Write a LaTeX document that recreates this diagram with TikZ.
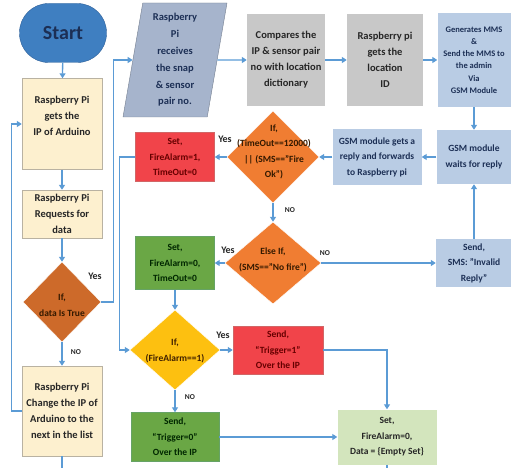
\documentclass[tikz,border=0pt]{standalone}
\usepackage{fontspec}
\setmainfont{Carlito}
\usepackage{xcolor}
\usetikzlibrary{arrows.meta,positioning,shapes.geometric}

\definecolor{arrowblue}{HTML}{5B9BD5}
\definecolor{startblue}{HTML}{3F7FC1}
\definecolor{startline}{HTML}{2E6099}
\definecolor{navytext}{HTML}{1C2F55}
\definecolor{cream}{HTML}{FDF0CF}
\definecolor{creamline}{HTML}{B9B2A2}
\definecolor{paral}{HTML}{A6B4CC}
\definecolor{greybox}{HTML}{C8C8C8}
\definecolor{lightblue}{HTML}{B9CCE4}
\definecolor{darkorange}{HTML}{CD6A2A}
\definecolor{orangeif}{HTML}{F07D32}
\definecolor{redbox}{HTML}{F1444A}
\definecolor{greenbox}{HTML}{6AA745}
\definecolor{yellowif}{HTML}{FDC010}
\definecolor{lightgreen}{HTML}{D3E5BD}

\begin{document}
\begin{tikzpicture}[x=1pt,y=-1pt,
    every node/.style={inner sep=0pt,align=center,font=\bfseries},
    bigtxt/.style={font=\bfseries\fontsize{10.5}{16}\selectfont},
    midtxt/.style={font=\bfseries\fontsize{9.5}{15.5}\selectfont},
    creambox/.style={rectangle,draw=creamline,fill=cream,bigtxt,text=black!85,minimum width=80pt},
    greybox/.style={rectangle,fill=greybox,bigtxt,text=black!85},
    bluebox/.style={rectangle,fill=lightblue,midtxt,text=navytext},
    redset/.style={rectangle,draw=red!70!black!60,fill=redbox,midtxt,text=red!40!black},
    greenset/.style={rectangle,draw=green!40!black!60,fill=greenbox,midtxt,text=black!85!green},
    ifbox/.style={diamond,draw=white,minimum width=#1},
    iftext/.style={midtxt,text=black!80!orange},
    flow/.style={draw=arrowblue,line width=1.3pt,-{Triangle[length=5pt,width=6pt]}},
    link/.style={draw=arrowblue,line width=1.3pt},
    yeslabel/.style={font=\bfseries\fontsize{10}{12}\selectfont,text=black!85},
    nolabel/.style={font=\bfseries\fontsize{7.5}{9}\selectfont,text=black!85}]

    \useasboundingbox (0,0) rectangle (511,468);

    % Draw left column
    \node[rectangle,rounded corners=29pt,draw=startline,fill=startblue,
          minimum width=87pt,minimum height=59pt,text=navytext,
          font=\bfseries\fontsize{20}{24}\selectfont] (start) at (63,33) {Start};
    \node[creambox,minimum height=91pt] (getip) at (62,124) {Raspberry Pi\\ gets the\\ IP of Arduino\\ \mbox{}};
    \node[creambox,minimum height=48pt] (request) at (62,214) {Raspberry Pi\\ Requests for\\ data};
    \node[ifbox=78pt,fill=darkorange,minimum height=80pt] (ifdata) at (62,302) {};
    \node[iftext] (ifdatatext) at (62,305) {If,\\ data Is True};
    \node[creambox,minimum height=90pt] (change) at (62,411) {Raspberry Pi\\ Change the IP of\\ Arduino to the\\ next in the list};
    \coordinate (changeend) at (62,468);

    % Draw top row
    \node[trapezium,trapezium left angle=78,trapezium right angle=102,trapezium stretches body,
          draw=paral!70!black,fill=paral,minimum width=104pt,minimum height=114pt,
          bigtxt,text=navytext,font=\bfseries\fontsize{10.5}{16.8}\selectfont] (receive) at (175,60)
          {Raspberry\\ Pi\\ receives\\ the snap\\ \& sensor\\ pair no.};
    \node[greybox,minimum width=78pt,minimum height=92pt] (compare) at (286,60)
          {Compares the\\ IP \& sensor pair\\ no with location\\ dictionary};
    \node[greybox,minimum width=76pt,minimum height=92pt] (location) at (385,60)
          {Raspberry pi\\ gets the\\ location\\ ID};
    \node[bluebox,minimum width=73pt,minimum height=94pt,font=\bfseries\fontsize{8.5}{12.2}\selectfont] (mms) at (474,60)
          {Generates MMS\\ \&\\ Send the MMS to\\ the admin\\ Via\\ GSM Module};

    % Draw reply handling
    \node[bluebox,minimum width=75pt,minimum height=54pt] (wait) at (474,157) {GSM module\\ waits for reply};
    \node[bluebox,minimum width=89pt,minimum height=55pt] (forward) at (377,157)
          {GSM module gets a\\ reply and forwards\\ to Raspberry pi};
    \node[ifbox=92pt,fill=orangeif,minimum height=92pt] (iffire) at (273,157) {};
    \node[iftext] (iffiretext) at (274,152) {If,\\ (TimeOut==12000)\\ || (SMS=="Fire\\ Ok")};
    \node[redset,minimum width=79pt,minimum height=49pt] (setfire) at (175,157) {Set,\\ FireAlarm=1,\\ TimeOut=0};
    \node[ifbox=96pt,fill=orangeif,minimum height=82pt] (ifnofire) at (273,263) {};
    \node[iftext] (ifnofiretext) at (273,260) {Else If,\\ (SMS=="No fire")};
    \node[bluebox,minimum width=76pt,minimum height=48pt] (invalid) at (474,263) {Send,\\ SMS: "Invalid\\ Reply"};
    \node[greenset,minimum width=79pt,minimum height=53pt] (setnofire) at (175,263) {Set,\\ FireAlarm=0,\\ TimeOut=0};

    % Draw trigger part
    \node[ifbox=90pt,fill=yellowif,minimum height=80pt] (ifalarm) at (175,350) {};
    \node[iftext,text=black!75!orange] (ifalarmtext) at (175,351) {If,\\ (FireAlarm==1)};
    \node[redset,minimum width=90pt,minimum height=48pt] (trigone) at (278,350) {Send,\\ ``Trigger=1''\\ Over the IP};
    \node[greenset,minimum width=88pt,minimum height=49pt] (trigzero) at (175,437) {Send,\\ ``Trigger=0''\\ Over the IP};
    \node[rectangle,fill=lightgreen,midtxt,text=black!85,minimum width=99pt,minimum height=55pt] (clear) at (387,437)
          {Set,\\ FireAlarm=0,\\ Data = \{Empty Set\}};
    \coordinate (clearend) at (387,468);

    % Draw arrows
    \draw[flow] (start) -- (getip);
    \draw[flow] (getip) -- (request);
    \draw[flow] (request) -- (ifdata);
    \draw[flow] (ifdata) -- (change);
    \draw[link] (change) -- (changeend);
    \draw[flow] (change.west) -- ++(-10,0) |- (getip.west);
    \draw[flow] (ifdata.east) -- ++(12,0) |- (receive.west);
    \draw[flow] (receive.east) -- (compare.west);
    \draw[flow] (compare) -- (location);
    \draw[flow] (location) -- (mms);
    \draw[flow] (mms) -- (wait);
    \draw[flow] (wait) -- (forward);
    \draw[flow] (forward) -- (iffire.east);
    \draw[flow] (iffire.west) -- (setfire);
    \draw[flow] (iffire.south) -- (ifnofire.north);
    \draw[flow] (ifnofire.east) -- (invalid);
    \draw[flow] (invalid) -- (wait);
    \draw[flow] (ifnofire.west) -- (setnofire);
    \draw[flow] (setfire.west) -- ++(-16,0) |- (ifalarm.west);
    \draw[flow] (setnofire) -- (ifalarm.north);
    \draw[flow] (ifalarm.east) -- (trigone);
    \draw[flow] (ifalarm.south) -- (trigzero);
    \draw[flow] (trigone.east) -| (clear.north);
    \draw[flow] (trigzero) -- (clear);
    \draw[link] (clear) -- (clearend);

    % Add labels
    \node[yeslabel] (yesdata) at (95,276) {Yes};
    \node[nolabel] (nodata) at (76,352) {NO};
    \node[yeslabel] (yesfire) at (225,139) {Yes};
    \node[nolabel] (nofire) at (290,210) {NO};
    \node[yeslabel] (yesnofire) at (228,250) {Yes};
    \node[nolabel] (nonofire) at (325,253) {NO};
    \node[yeslabel] (yesalarm) at (223,335) {Yes};
    \node[nolabel] (noalarm) at (190,397) {NO};
\end{tikzpicture}
\end{document}
